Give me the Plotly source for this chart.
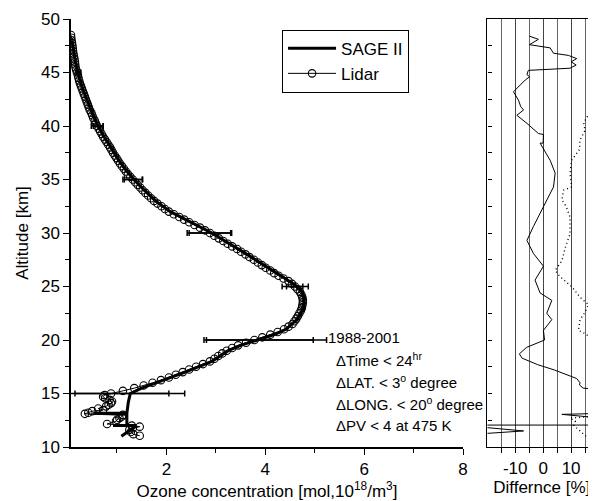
import plotly.graph_objects as go

# ---------------- data ----------------
lidar_alt = [48.5, 48.25, 48.0, 47.75, 47.5, 47.25, 47.0, 46.75, 46.5, 46.25, 46.0, 45.75, 45.5, 45.25,
             45.0, 44.75, 44.5, 44.25, 44.0, 43.75, 43.5, 43.25, 43.0, 42.75, 42.5, 42.25, 42.0, 41.75,
             41.5, 41.25, 41.0, 40.75, 40.5, 40.25, 40.0, 39.75, 39.5, 39.25, 39.0, 38.75, 38.5, 38.25,
             38.0, 37.75, 37.5, 37.25, 37.0, 36.75, 36.5, 36.25, 36.0, 35.75, 35.5, 35.25, 35.0, 34.75,
             34.5, 34.25, 34.0, 33.75, 33.5, 33.25, 33.0, 32.75, 32.5, 32.25, 32.0, 31.75, 31.5, 31.25,
             31.0, 30.75, 30.5, 30.25, 30.0, 29.75, 29.5, 29.25, 29.0, 28.75, 28.5, 28.25, 28.0, 27.75,
             27.5, 27.25, 27.0, 26.75, 26.5, 26.25, 26.0, 25.75, 25.5, 25.25, 25.0, 24.75, 24.5, 24.25,
             24.0, 23.75, 23.5, 23.25, 23.0, 22.75, 22.5, 22.25, 22.0, 21.75, 21.5, 21.25, 21.0, 20.75,
             20.5, 20.25, 20.0, 19.75, 19.5, 19.25, 19.0, 18.75, 18.5, 18.25, 18.0, 17.75, 17.5, 17.25,
             17.0, 16.75, 16.5, 16.25, 16.0, 15.75, 15.5, 15.25, 15.0,
             14.85, 14.7, 14.55, 14.4, 14.25, 14.1, 13.95, 13.8, 13.6, 13.45, 13.35, 13.2, 13.1,
             13.0, 12.85, 12.7, 12.55, 12.4, 12.15, 12.0, 11.9, 11.75, 11.6, 11.4, 11.2, 11.05]
lidar_conc = [0.07, 0.075, 0.08, 0.09, 0.10, 0.105, 0.11, 0.12, 0.13, 0.14, 0.15, 0.155, 0.16, 0.175,
              0.19, 0.21, 0.22, 0.235, 0.25, 0.27, 0.29, 0.31, 0.33, 0.35, 0.37, 0.39, 0.41, 0.43,
              0.45, 0.48, 0.50, 0.52, 0.55, 0.57, 0.60, 0.63, 0.66, 0.69, 0.72, 0.755, 0.79, 0.825,
              0.86, 0.89, 0.92, 0.955, 0.99, 1.025, 1.06, 1.10, 1.14, 1.18, 1.22, 1.27, 1.32, 1.37,
              1.42, 1.47, 1.52, 1.575, 1.63, 1.69, 1.75, 1.82, 1.90, 1.97, 2.05, 2.15, 2.26, 2.36,
              2.46, 2.57, 2.68, 2.78, 2.88, 2.97, 3.06, 3.15, 3.24, 3.33, 3.43, 3.51, 3.60, 3.68,
              3.77, 3.85, 3.93, 4.01, 4.10, 4.18, 4.27, 4.37, 4.47, 4.54, 4.60, 4.65, 4.70, 4.73,
              4.75, 4.76, 4.76, 4.75, 4.74, 4.72, 4.69, 4.66, 4.63, 4.59, 4.55, 4.47, 4.38, 4.25,
              4.10, 3.94, 3.78, 3.61, 3.45, 3.33, 3.22, 3.13, 3.05, 2.97, 2.88, 2.74, 2.60, 2.46,
              2.33, 2.19, 2.05, 1.89, 1.72, 1.54, 1.35, 1.12, 0.88,
              0.75, 0.72, 0.76, 0.85, 0.90, 0.88, 0.83, 0.78, 0.62, 0.72, 0.50, 0.42, 0.35,
              1.12, 1.10, 1.05, 1.00, 0.98, 0.80, 1.30, 1.46, 1.32, 1.25, 1.28, 1.33, 1.46]

sage_alt = [48.0, 47.0, 46.0, 45.0, 44.0, 43.0, 42.0, 41.0, 40.0, 39.0, 38.0, 37.0, 36.0, 35.0,
            34.0, 33.0, 32.0, 31.0, 30.0, 29.0, 28.0, 27.0, 26.0, 25.0, 24.5, 24.0, 23.0, 22.0,
            21.0, 20.5, 20.0, 19.5, 19.0, 18.0, 17.0, 16.0, 15.5, 15.0, 14.2, 13.15, 13.15, 13.05,
            12.0, 12.0, 12.0, 11.0]
sage_conc = [0.09, 0.12, 0.16, 0.21, 0.27, 0.35, 0.43, 0.52, 0.62, 0.74, 0.88, 1.01, 1.16, 1.34,
             1.55, 1.78, 2.08, 2.50, 2.92, 3.28, 3.64, 3.97, 4.32, 4.64, 4.74, 4.79, 4.78, 4.66,
             4.42, 4.18, 3.85, 3.50, 3.25, 2.92, 2.38, 1.80, 1.50, 1.27, 1.23, 1.20, 0.52, 1.20,
             1.20, 0.92, 1.39, 1.09]

# error bars (altitude, centre, half-width)
lidar_err_alt = [45.0, 40.0, 35.0, 30.0, 25.0, 20.0, 15.0]
lidar_err_c = [0.22, 0.60, 1.32, 2.87, 4.55, 3.89, 1.10]
lidar_err_w = [0.05, 0.12, 0.20, 0.45, 0.21, 1.08, 0.95]
sage_err_alt = [45.0, 40.0, 35.0, 30.0, 25.0, 20.0, 15.0]
sage_err_c = [0.22, 0.62, 1.33, 2.88, 4.65, 4.00, 1.20]
sage_err_w = [0.04, 0.10, 0.18, 0.42, 0.22, 1.24, 1.17]

diff_alt = [48.4, 48.1, 47.6, 47.3, 46.8, 46.6, 46.3, 46.0, 45.7, 45.4, 45.2, 44.8, 44.6, 44.4,
            44.3, 43.2, 42.4, 41.8, 41.5, 41.0, 40.25, 39.3, 39.2, 38.4, 38.4, 36.8, 35.6, 34.3,
            32.5, 30.6, 29.3, 28.1, 26.9, 25.6, 24.4, 23.7, 22.5, 21.9, 20.9, 20.0, 19.3, 18.7,
            18.3, 17.7, 17.2, 16.4, 16.0, 15.8, 15.5, 15.4, 15.3, 13.2, 13.05, 12.6, 12.05, 12.05,
            11.5, 11.1]
diff_val = [-4.9, -1.7, -4.9, 2.5, 3.7, 9.0, 12.0, 10.0, 11.8, 9.6, -5.3, -5.8, -4.8, -6.0,
            -6.4, -10.6, -8.8, -8.0, -7.0, -9.4, -5.8, -1.7, 0.1, 0.0, -1.1, 2.5, 4.3, 3.7,
            0.1, -3.5, -5.8, -3.5, 0.1, -2.9, -1.1, 3.1, 1.3, 3.1, 0.1, 0.5, -6.0, -8.5,
            -7.5, -2.0, 4.0, 12.0, 13.2, 13.0, 14.3, 18.6, 25.0, 30.0, 6.7, 25.0, 30.0, -30.0,
            -7.0, -30.0]

dot_alt = [43.4, 42.7, 42.2, 41.7, 41.2, 40.3, 39.6, 38.7, 37.8, 36.8, 35.6, 34.3, 34.0, 33.1,
           32.5, 31.5, 29.9, 28.7, 27.4, 26.5, 25.9, 25.0, 24.0, 23.3, 22.6, 21.9, 20.9, 20.6,
           20.0, 18.8, 17.5, 13.0, 12.7, 12.4, 12.0, 11.6, 11.2, 10.8, 10.4]
dot_val = [21.0, 17.0, 18.5, 17.9, 16.5, 14.5, 15.0, 13.2, 13.0, 10.2, 9.6, 10.2, 7.3, 6.7,
           8.2, 9.6, 9.6, 8.0, 6.7, 4.3, 6.1, 10.2, 13.2, 16.2, 15.0, 13.2, 12.6, 15.0,
           17.9, 18.6, 22.0, 25.0, 9.6, 11.5, 11.0, 12.6, 14.5, 16.2, 17.5]

info_lines = ["1988-2001",
              "ΔTime &lt; 24<sup>hr</sup>",
              "ΔLAT. &lt; 3<sup>o</sup> degree",
              "ΔLONG. &lt; 20<sup>o</sup> degree",
              "ΔPV &lt; 4 at 475 K"]
info_y = [20.2, 18.2, 16.1, 14.1, 12.0]
info_x = [5.23, 5.4, 5.4, 5.4, 5.4]

# ---------------- figure ----------------
FONT = "Liberation Sans, Arial, sans-serif"
fig = go.Figure()

fig.add_trace(go.Scatter(x=sage_conc, y=sage_alt, mode="lines", name="SAGE II",
                         line=dict(color="black", width=3), xaxis="x", yaxis="y"))
fig.add_trace(go.Scatter(x=lidar_conc, y=lidar_alt, mode="lines+markers", name="Lidar",
                         line=dict(color="black", width=1),
                         marker=dict(symbol="circle-open", size=7.5, color="black",
                                     line=dict(width=1.1, color="black")),
                         xaxis="x", yaxis="y"))
fig.add_trace(go.Scatter(x=lidar_err_c, y=lidar_err_alt, mode="markers", showlegend=False,
                         marker=dict(size=1, color="rgba(0,0,0,0)"),
                         error_x=dict(type="data", array=lidar_err_w, color="black",
                                      thickness=1.5, width=3),
                         xaxis="x", yaxis="y", hoverinfo="skip"))
fig.add_trace(go.Scatter(x=sage_err_c, y=sage_err_alt, mode="markers", showlegend=False,
                         marker=dict(size=1, color="rgba(0,0,0,0)"),
                         error_x=dict(type="data", array=sage_err_w, color="black",
                                      thickness=1.5, width=3),
                         xaxis="x", yaxis="y", hoverinfo="skip"))

fig.add_trace(go.Scatter(x=diff_val, y=diff_alt, mode="lines", showlegend=False,
                         line=dict(color="black", width=1), xaxis="x2", yaxis="y2"))
fig.add_trace(go.Scatter(x=dot_val, y=dot_alt, mode="lines", showlegend=False,
                         line=dict(color="black", width=1.4, dash="1px,3px"), xaxis="x2", yaxis="y2"))

for t, xv, yv in zip(info_lines, info_x, info_y):
    fig.add_annotation(text=t, x=xv, y=yv, xref="x", yref="y", xanchor="left", yanchor="middle",
                       showarrow=False, font=dict(size=15, color="black", family=FONT))

fig.update_layout(
    width=596, height=501,
    margin=dict(l=63, r=8, t=11, b=62, autoexpand=False),
    paper_bgcolor="white", plot_bgcolor="white",
    font=dict(family=FONT, size=17, color="black"),
    showlegend=True,
    legend=dict(x=0.402, y=0.975, xanchor="left", yanchor="top",
                bordercolor="black", borderwidth=1, bgcolor="white",
                font=dict(size=17), tracegroupgap=0, itemwidth=48),
    xaxis=dict(domain=[0, 0.7467], range=[0.07, 8], tick0=0, dtick=2, automargin=False,
               showline=True, linecolor="black", linewidth=1.5,
               ticks="outside", ticklen=6, tickwidth=1.3, tickcolor="black",
               minor=dict(dtick=1, ticks="outside", ticklen=4, tickcolor="black"),
               showgrid=False, zeroline=False,
               title=dict(text="Ozone concentration [mol,10<sup>18</sup>/m<sup>3</sup>]",
                          font=dict(size=17), standoff=0)),
    yaxis=dict(domain=[0, 1], range=[10, 50], tick0=10, dtick=5, automargin=False,
               showline=True, linecolor="black", linewidth=1.5,
               ticks="outside", ticklen=6, tickwidth=1.3, tickcolor="black",
               minor=dict(dtick=2.5, ticks="outside", ticklen=4, tickcolor="black"),
               showgrid=False, zeroline=False,
               title=dict(text="Altitude [km]", font=dict(size=17), standoff=8)),
    xaxis2=dict(domain=[0.7933, 1.0], range=[-19.9, 18.9], anchor="y2", automargin=False,
                tickmode="array", tickvals=[-10, 0, 10], ticktext=["-10", "0", "10"],
                showline=True, mirror=True, linecolor="black", linewidth=1.3,
                ticks="outside", ticklen=5, tickcolor="black",
                showgrid=True, gridcolor="#444", gridwidth=1,
                minor=dict(tickvals=[-15, -5, 5, 15], ticks="outside", ticklen=5,
                           tickcolor="black", showgrid=True, gridcolor="#666", gridwidth=1),
                zeroline=False,
                title=dict(text="Differnce [%]", font=dict(size=17), standoff=4)),
    yaxis2=dict(domain=[0, 1], range=[10, 50], anchor="x2", automargin=False,
                tick0=10, dtick=2.5, showticklabels=False,
                showline=True, linecolor="black", linewidth=1.3,
                ticks="inside", ticklen=4, tickcolor="black",
                showgrid=False, zeroline=False),
)

fig.write_html("out.html")
